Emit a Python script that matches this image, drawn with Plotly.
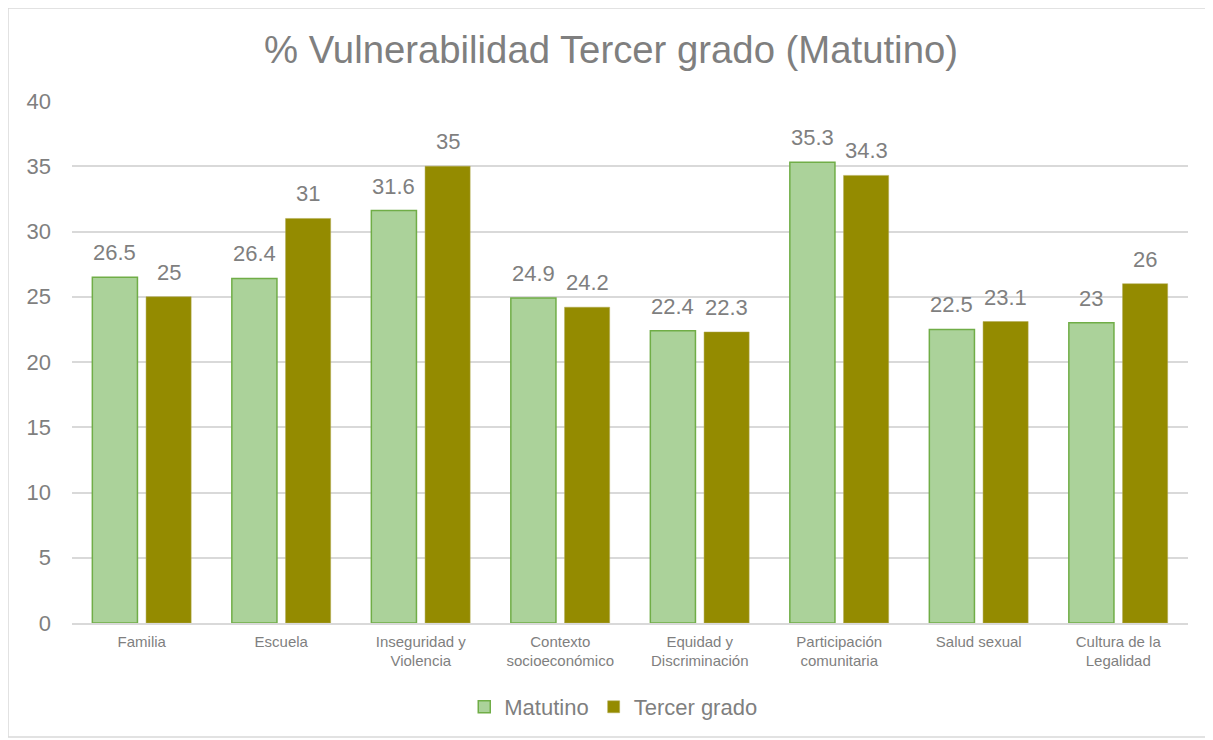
import plotly.graph_objects as go

categories = ["Familia", "Escuela", "Inseguridad y<br>Violencia", "Contexto<br>socioeconómico",
              "Equidad y<br>Discriminación", "Participación<br>comunitaria", "Salud sexual",
              "Cultura de la<br>Legalidad"]
matutino = [26.5, 26.4, 31.6, 24.9, 22.4, 35.3, 22.5, 23]
tercer = [25, 31, 35, 24.2, 22.3, 34.3, 23.1, 26]

FONT = "Liberation Sans, Arial, sans-serif"
GRAY = "#7F7F7F"

W, H = 1213, 740
# page has an 8px body offset; compensate in margins
L, T, R, B = 64, 93, 33, 125
PW, PH = W - L - R, H - T - B
BARGAP = 0.23
slot_px = (1 - BARGAP) * (PW / len(categories)) / 2

fig = go.Figure()
fig.add_trace(go.Bar(
    x=categories, y=matutino, name="Matutino",
    marker=dict(color="#ABD29A", line=dict(color="#70AD47", width=1.5)),
))
fig.add_trace(go.Bar(
    x=categories, y=tercer, name="Tercer grado",
    marker=dict(color="#948B00", line=dict(color="#B0A850", width=0.5)),
))

annotations = []
for series, sign in ((matutino, -1), (tercer, 1)):
    for c, v in zip(categories, series):
        annotations.append(dict(
            x=c, y=v, xref="x", yref="y", text=f"{v:g}", showarrow=False,
            xanchor="center", yanchor="bottom", xshift=sign * slot_px / 2, yshift=10,
            font=dict(size=22, color=GRAY, family=FONT)))

fig.update_layout(
    width=W, height=H,
    paper_bgcolor="white", plot_bgcolor="white",
    margin=dict(l=L, r=R, t=T, b=B),
    title=dict(text="% Vulnerabilidad Tercer grado (Matutino)", x=(611 - 8) / W, xanchor="center",
               y=1 - (50 - 8) / H, yanchor="middle",
               font=dict(size=38.3, color=GRAY, family=FONT)),
    barmode="group", bargap=BARGAP, bargroupgap=0.16,
    font=dict(family=FONT, color=GRAY),
    legend=dict(orientation="h", x=0.485, xanchor="center",
                y=-(707 - 8 - (T + PH)) / PH, yanchor="middle",
                font=dict(size=22, color=GRAY, family=FONT), traceorder="normal"),
    xaxis=dict(showgrid=False, showline=True, linecolor="#D9D9D9", linewidth=1.5,
               tickfont=dict(size=15, color=GRAY, family=FONT), ticks="", ticklabelstandoff=4),
    yaxis=dict(range=[0, 40], dtick=5, showgrid=True, gridcolor="#D9D9D9", gridwidth=1.5,
               zeroline=False, showline=False,
               tickfont=dict(size=22, color=GRAY, family=FONT), ticks="", ticklabelstandoff=20),
    annotations=annotations,
    shapes=[dict(type="rect", xref="paper", yref="paper",
                 x0=(0 - L) / PW, x1=(1200 - L) / PW,
                 y0=(T + PH - 729) / PH, y1=1 + T / PH,
                 line=dict(color="#D9D9D9", width=1.5), fillcolor="rgba(0,0,0,0)", layer="below")],
)

fig.write_html("out.html")
